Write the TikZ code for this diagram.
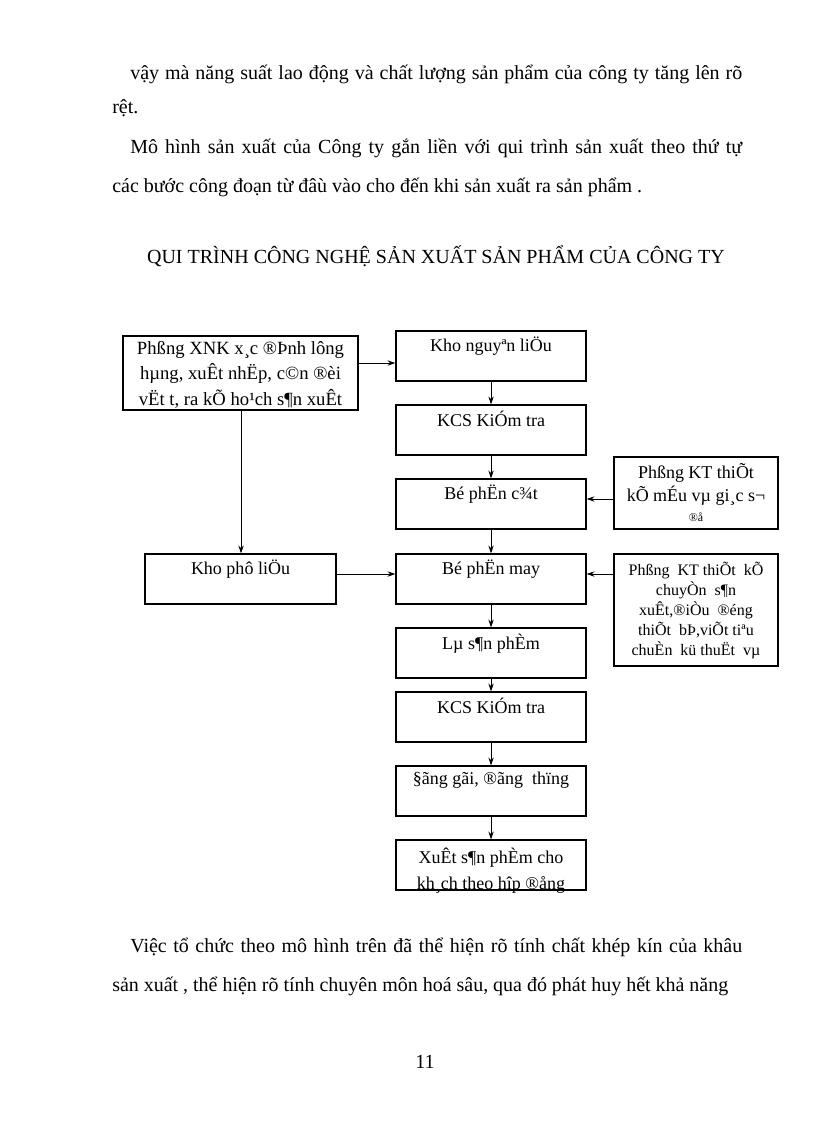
\documentclass[tikz,border=0pt]{standalone}
\usepackage{fontspec}
\setmainfont{Liberation Serif}
\usetikzlibrary{arrows.meta}
\begin{document}
\begin{tikzpicture}[x=0.75pt,y=-0.75pt,
  box/.style={draw,line width=0.8pt,inner sep=0pt},
  txt/.style={anchor=north,align=center,font=\fontsize{13.5}{17.5}\selectfont,inner sep=0pt},
  arr/.style={-{Stealth[length=6pt,width=4pt]},line width=0.6pt},
  body/.style={anchor=base west,inner sep=0pt,font=\fontsize{15}{16}\selectfont}]
\useasboundingbox (0,0) rectangle (816,1123);
\node[body] (l1) at (130,80) {\makebox[612\dimexpr0.75pt][s]{vậy mà năng suất lao động và chất lượng sản phẩm của công ty tăng lên rõ}};
\node[body] (l2) at (112,114) {rệt.};
\node[body] (l3) at (130,154) {\makebox[612\dimexpr0.75pt][s]{Mô hình sản xuất của Công ty gắn liền với qui trình sản xuất theo thứ tự}};
\node[body] (l4) at (112,193) {các bước công đoạn từ đâù vào cho đến khi sản xuất ra sản phẩm .};
\node[body,anchor=base] (t) at (436,263) {QUI TRÌNH CÔNG NGHỆ SẢN XUẤT SẢN PHẨM CỦA CÔNG TY};
\node[body] (l5) at (130,952) {\makebox[612\dimexpr0.75pt][s]{Việc tổ chức theo mô hình trên đã thể hiện rõ tính chất khép kín của khâu}};
\node[body] (l6) at (112,991) {\makebox[616\dimexpr0.75pt][s]{sản xuất , thể hiện rõ tính chuyên môn hoá sâu, qua đó phát huy hết khả năng}};
\node[body,anchor=base] (pg) at (425,1068) {11};

\newcommand\bx[6]{\node[box,minimum width=#4*0.75pt,minimum height=#5*0.75pt] (#1) at (#2+#4/2,#3+#5/2) {};
 \node[txt] (#1t) at (#2+#4/2,#3+6) {#6};}
\node[box,minimum width=235*0.75pt,minimum height=74*0.75pt] (a) at (240.5,373) {};
\node[txt,font=\fontsize{14}{19}\selectfont] (at) at (240.5,341) {Phßng XNK x¸c ®Þnh lông\\hµng, xuÊt nhËp, c©n ®èi\\vËt t­, ra kÕ ho¹ch s¶n xuÊt};
\bx{b}{396}{331}{190}{50}{Kho nguyªn liÖu}
\bx{c}{396}{405}{190}{50}{KCS KiÓm tra}
\bx{d}{396}{479}{190}{50}{Bé phËn c¾t}
\bx{e}{614}{457}{164}{72}{Phßng KT thiÕt\\kÕ mÉu vµ gi¸c s¬\\[-3pt]{\small ®å}}
\bx{f}{145}{554}{191}{50}{Kho phô liÖu}
\bx{g}{396}{554}{190}{50}{Bé phËn may}
\node[box,minimum width=164*0.75pt,minimum height=112*0.75pt] (h) at (696,610) {};
\node[txt,font=\fontsize{12}{15}\selectfont] (ht) at (696,562) {Phßng \ KT thiÕt \ kÕ\\chuyÒn \ s¶n\\xuÊt,®iÒu \ ®éng\\thiÕt \ bÞ,viÕt tiªu\\chuÈn \ kü thuËt \ vµ};
\bx{i}{396}{628}{190}{50}{Lµ s¶n phÈm}
\bx{j}{396}{692}{190}{50}{KCS KiÓm tra}
\bx{k}{396}{766}{190}{50}{§ãng gãi, ®ãng \ thïng}
\node[box,minimum width=190*0.75pt,minimum height=50*0.75pt] (l) at (491,865) {};
\node[txt,font=\fontsize{13.5}{19}\selectfont] (lt) at (491,848) {XuÊt s¶n phÈm cho\\kh¸ch theo hîp ®ång};

\draw[arr] (a.east |- 0,363) -- (b.west |- 0,363);
\draw[arr] (b) -- (c);
\draw[arr] (c) -- (d);
\draw[arr] (d) -- (g);
\draw[arr] (g) -- (i);
\draw[arr] (i) -- (j);
\draw[arr] (j) -- (k);
\draw[arr] (k) -- (l);
\draw[arr] (a.south -| 241,0) -- (f.north -| 241,0);
\draw[arr] (f.east |- 0,574) -- (g.west |- 0,574);
\draw[arr] (e.west |- 0,499) -- (d.east |- 0,499);
\draw[arr] (h.west |- 0,574) -- (g.east |- 0,574);
\end{tikzpicture}
\end{document}
